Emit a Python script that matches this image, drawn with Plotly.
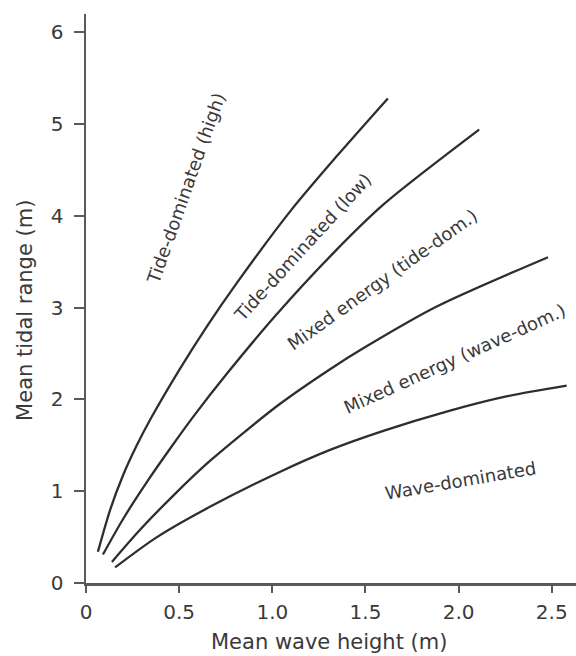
import plotly.graph_objects as go

# Curve data (mean wave height [m], mean tidal range [m])
tide_high_x = [0.064, 0.13, 0.20, 0.27, 0.35, 0.50, 0.65, 0.81, 1.10, 1.35, 1.62]
tide_high_y = [0.34, 0.80, 1.18, 1.49, 1.80, 2.32, 2.80, 3.27, 4.06, 4.66, 5.28]

tide_low_x = [0.091, 0.20, 0.33, 0.45, 0.575, 0.76, 1.02, 1.33, 1.60, 2.11]
tide_low_y = [0.31, 0.70, 1.11, 1.46, 1.81, 2.29, 2.92, 3.60, 4.13, 4.94]

mixed_tide_x = [0.139, 0.29, 0.467, 0.665, 1.04, 1.31, 1.49, 1.88, 2.48]
mixed_tide_y = [0.23, 0.58, 0.95, 1.33, 1.95, 2.33, 2.56, 3.01, 3.55]

mixed_wave_x = [0.156, 0.381, 0.665, 1.04, 1.31, 1.60, 1.94, 2.25, 2.58]
mixed_wave_y = [0.17, 0.50, 0.83, 1.21, 1.45, 1.66, 1.87, 2.03, 2.15]

# Region labels
label_text = ["Tide-dominated (high)", "Tide-dominated (low)", "Mixed energy (tide-dom.)",
              "Mixed energy (wave-dom.)", "Wave-dominated"]
label_x = [0.535, 1.16, 1.59, 1.98, 2.01]
label_y = [4.30, 3.66, 3.31, 2.45, 1.12]
label_angle = [-70.5, -47.5, -35.5, -24.3, -9.7]

x_ticks = [0, 0.5, 1.0, 1.5, 2.0, 2.5]
x_ticktext = ["0", "0.5", "1.0", "1.5", "2.0", "2.5"]
y_ticks = [0, 1, 2, 3, 4, 5, 6]
y_ticktext = ["0", "1", "2", "3", "4", "5", "6"]

x_title = "Mean wave height (m)"
y_title = "Mean tidal range (m)"

FONT = "DejaVu Sans"
TEXT_COLOR = "#3a3a3a"
LINE_COLOR = "#2e2e2e"
AXIS_COLOR = "#5a5a5a"

fig = go.Figure()
for xs, ys in [(tide_high_x, tide_high_y), (tide_low_x, tide_low_y),
               (mixed_tide_x, mixed_tide_y), (mixed_wave_x, mixed_wave_y)]:
    fig.add_trace(go.Scatter(x=xs, y=ys, mode="lines",
                             line=dict(color=LINE_COLOR, width=2.3, shape="spline", smoothing=0.8),
                             showlegend=False, hoverinfo="skip"))

for t, x, y, a in zip(label_text, label_x, label_y, label_angle):
    fig.add_annotation(x=x, y=y, text=t, textangle=a, showarrow=False,
                       font=dict(family=FONT, size=18, color=TEXT_COLOR),
                       xanchor="center", yanchor="middle")

# Axis titles placed as paper-referenced annotations
fig.add_annotation(x=0.496, y=-0.104, xref="paper", yref="paper", text=x_title,
                   showarrow=False, xanchor="center", yanchor="middle",
                   font=dict(family=FONT, size=21, color=TEXT_COLOR))
fig.add_annotation(x=-0.1245, y=0.48, xref="paper", yref="paper", text=y_title,
                   textangle=-90, showarrow=False, xanchor="center", yanchor="middle",
                   font=dict(family=FONT, size=21, color=TEXT_COLOR))

fig.update_layout(
    width=576, height=656,
    margin=dict(l=86, r=0, t=14, b=73, autoexpand=False),
    plot_bgcolor="white", paper_bgcolor="white",
    showlegend=False,
    font=dict(family=FONT, color=TEXT_COLOR),
)
fig.update_xaxes(
    range=[0, 2.63], tickvals=x_ticks, ticktext=x_ticktext,
    showgrid=False, zeroline=False, automargin=False,
    showline=True, linecolor=AXIS_COLOR, linewidth=2.5,
    ticks="outside", ticklen=7, tickwidth=2, tickcolor=AXIS_COLOR,
    tickfont=dict(family=FONT, size=20, color=TEXT_COLOR),
    ticklabelstandoff=2,
)
fig.update_yaxes(
    range=[0, 6.2], tickvals=y_ticks, ticktext=y_ticktext,
    showgrid=False, zeroline=False, automargin=False,
    showline=True, linecolor=AXIS_COLOR, linewidth=2.5,
    ticks="outside", ticklen=10, tickwidth=2, tickcolor=AXIS_COLOR,
    tickfont=dict(family=FONT, size=20, color=TEXT_COLOR),
    ticklabelstandoff=6,
)

fig.write_html(
    "out.html",
    config={"displayModeBar": False, "staticPlot": True},
    post_script="document.body.style.margin='0';document.body.style.overflow='hidden';",
)
